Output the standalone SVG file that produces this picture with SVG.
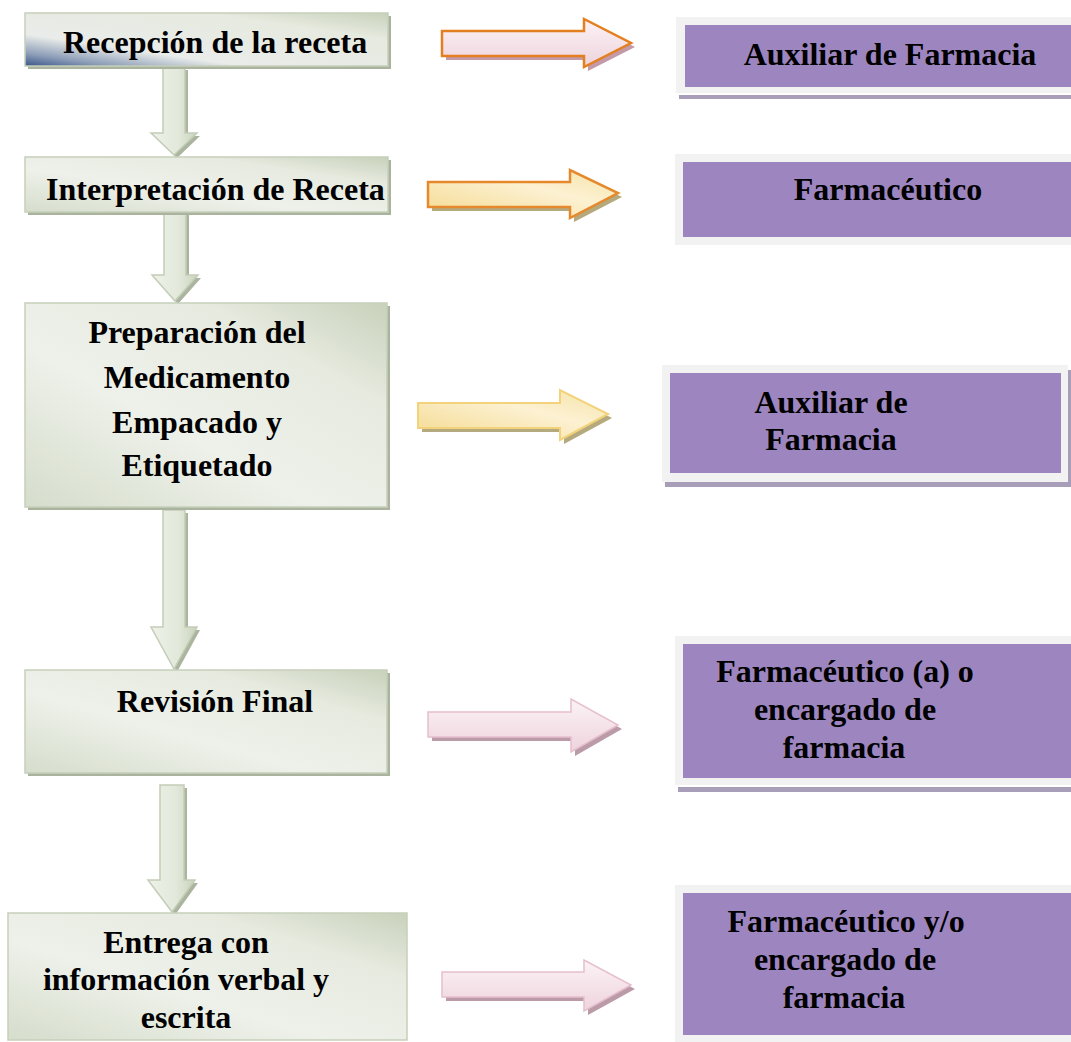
<svg xmlns="http://www.w3.org/2000/svg" width="1071" height="1042" viewBox="0 0 1071 1042">
<defs>
<style>
.t{font-family:"Liberation Serif","Times New Roman",serif;font-weight:bold;font-size:32px;fill:#000}
.c{text-anchor:middle}
.lb{fill:url(#gGreen);stroke:#c6cfba;stroke-width:1.5}
.lsh{fill:#a9b39d}
.fr{fill:#f2f2f2}
.pu{fill:#9d86c0}
.psh{fill:#a89eb9}
.va{fill:url(#gV);stroke:#c3cdb6;stroke-width:1.5}
.vsh{fill:#aab49e}
</style>
<linearGradient id="gGreen" x1="0" y1="1" x2="1" y2="0">
<stop offset="0" stop-color="#d6ddcc"/>
<stop offset="0.4" stop-color="#eef1ea"/>
<stop offset="0.75" stop-color="#e6eadf"/>
<stop offset="1" stop-color="#c8d1bb"/>
</linearGradient>
<linearGradient id="gBlue" x1="0" y1="1" x2="1" y2="0">
<stop offset="0" stop-color="#3a5689"/>
<stop offset="0.12" stop-color="#8d9db8"/>
<stop offset="0.3" stop-color="#e9ece9"/>
<stop offset="0.75" stop-color="#e6eadf"/>
<stop offset="1" stop-color="#c8d1bb"/>
</linearGradient>
<linearGradient id="gV" x1="0" y1="0" x2="1" y2="0">
<stop offset="0" stop-color="#eef2ea"/>
<stop offset="0.6" stop-color="#e2e8da"/>
<stop offset="1" stop-color="#c9d3bd"/>
</linearGradient>
<linearGradient id="gPink" x1="0" y1="0" x2="0" y2="1">
<stop offset="0" stop-color="#fbf3f6"/>
<stop offset="1" stop-color="#eed3dc"/>
</linearGradient>
<linearGradient id="gYel" x1="0" y1="1" x2="1" y2="0">
<stop offset="0" stop-color="#f4d98e"/>
<stop offset="0.6" stop-color="#fcf1d2"/>
<stop offset="1" stop-color="#f6e3a8"/>
</linearGradient>
</defs>
<rect width="1071" height="1042" fill="#fff"/>

<g id="connectors">
<!-- vertical arrows -->
<polygon class="vsh" points="166,70 188,70 188,136 200,136 177,158 154,136 166,136"/>
<polygon class="va" points="163,67 185,67 185,133 197,133 174,155 151,133 163,133"/>
<polygon class="vsh" points="167,215 189,215 189,278 201,278 178,304 155,278 167,278"/>
<polygon class="va" points="164,212 186,212 186,275 198,275 175,301 152,275 164,275"/>
<polygon class="vsh" points="166,513 188,513 188,630 200,630 177,672 154,630 166,630"/>
<polygon class="va" points="163,510 185,510 185,627 197,627 174,669 151,627 163,627"/>
<polygon class="vsh" points="163,788 187,788 187,883 198,883 175,915 151,883 163,883"/>
<polygon class="va" points="160,785 184,785 184,880 195,880 172,912 148,880 160,880"/>
<!-- horizontal arrows -->
<polygon fill="#c49aa9" points="446,35 588,35 588,23 635,47 588,71 588,60 446,60"/>
<polygon fill="url(#gPink)" stroke="#e47f1f" stroke-width="2.5" stroke-linejoin="miter" points="442,31 584,31 584,19 631,43 584,67 584,56 442,56"/>
<polygon fill="#b5a97e" points="432,186 574,186 574,174 622,197 574,222 574,211 432,211"/>
<polygon fill="url(#gYel)" stroke="#e5892c" stroke-width="2.5" points="428,182 570,182 570,170 618,193 570,218 570,207 428,207"/>
<polygon fill="#b5a97e" points="422,407 564,407 564,394 612,418 564,444 564,432 422,432"/>
<polygon fill="url(#gYel)" stroke="#f2d27a" stroke-width="2" points="418,403 560,403 560,390 608,414 560,440 560,428 418,428"/>
<polygon fill="#bb9ba8" points="432,716 575,716 575,703 622,729 575,756 575,741 432,741"/>
<polygon fill="url(#gPink)" stroke="#e6bfcd" stroke-width="1.5" points="428,712 571,712 571,699 618,725 571,752 571,737 428,737"/>
<polygon fill="#bb9ba8" points="446,976 588,976 588,964 635,989 588,1015 588,1001 446,1001"/>
<polygon fill="url(#gPink)" stroke="#e6bfcd" stroke-width="1.5" points="442,972 584,972 584,960 631,985 584,1011 584,997 442,997"/>
</g>

<g id="n1">
<rect class="lsh" x="28" y="16" width="363" height="53"/>
<rect x="25" y="13" width="363" height="53" fill="url(#gBlue)" stroke="#c6cfba" stroke-width="1.5"/>
<text class="t" x="63" y="53">Recepción de la receta</text>
</g>
<g id="n2">
<rect class="lsh" x="28" y="160" width="363" height="55"/>
<rect class="lb" x="25" y="157" width="363" height="55"/>
<text class="t" x="46" y="200">Interpretación de Receta</text>
</g>
<g id="n3">
<rect class="lsh" x="28" y="306" width="362" height="204"/>
<rect class="lb" x="25" y="303" width="362" height="204"/>
<text class="t c" x="197" y="343">Preparación del</text>
<text class="t c" x="197" y="388">Medicamento</text>
<text class="t c" x="197" y="433">Empacado y</text>
<text class="t c" x="197" y="476">Etiquetado</text>
</g>
<g id="n4">
<rect class="lsh" x="28" y="673" width="362" height="103"/>
<rect class="lb" x="25" y="670" width="362" height="103"/>
<text class="t c" x="215" y="712">Revisión Final</text>
</g>
<g id="n5">
<rect class="lb" x="8" y="913" width="399" height="127"/>
<text class="t c" x="186" y="953">Entrega con</text>
<text class="t c" x="186" y="990">información verbal y</text>
<text class="t c" x="186" y="1028">escrita</text>
</g>

<g id="r1">
<rect class="psh" x="679" y="95" width="400" height="4"/>
<rect class="fr" x="676" y="17" width="400" height="76"/>
<rect class="pu" x="685" y="25" width="400" height="62"/>
<text class="t c" x="890" y="65">Auxiliar de Farmacia</text>
</g>
<g id="r2">
<rect class="fr" x="675" y="154" width="400" height="91"/>
<rect class="pu" x="683" y="162" width="400" height="75"/>
<text class="t c" x="888" y="200">Farmacéutico</text>
</g>
<g id="r3">
<rect class="psh" x="665" y="370" width="406" height="117"/>
<rect class="fr" x="662" y="365" width="406" height="117"/>
<rect class="pu" x="670" y="373" width="391" height="100"/>
<text class="t c" x="831" y="413">Auxiliar de</text>
<text class="t c" x="831" y="450">Farmacia</text>
</g>
<g id="r4">
<rect class="psh" x="678" y="787" width="400" height="5"/>
<rect class="fr" x="675" y="636" width="400" height="149"/>
<rect class="pu" x="683" y="644" width="400" height="134"/>
<text class="t c" x="845" y="682">Farmacéutico (a) o</text>
<text class="t c" x="845" y="720">encargado de</text>
<text class="t c" x="844" y="758">farmacia</text>
</g>
<g id="r5">
<rect class="fr" x="675" y="885" width="400" height="160"/>
<rect class="pu" x="683" y="893" width="400" height="142"/>
<text class="t c" x="846" y="932">Farmacéutico y/o</text>
<text class="t c" x="845" y="970">encargado de</text>
<text class="t c" x="844" y="1008">farmacia</text>
</g>
</svg>
